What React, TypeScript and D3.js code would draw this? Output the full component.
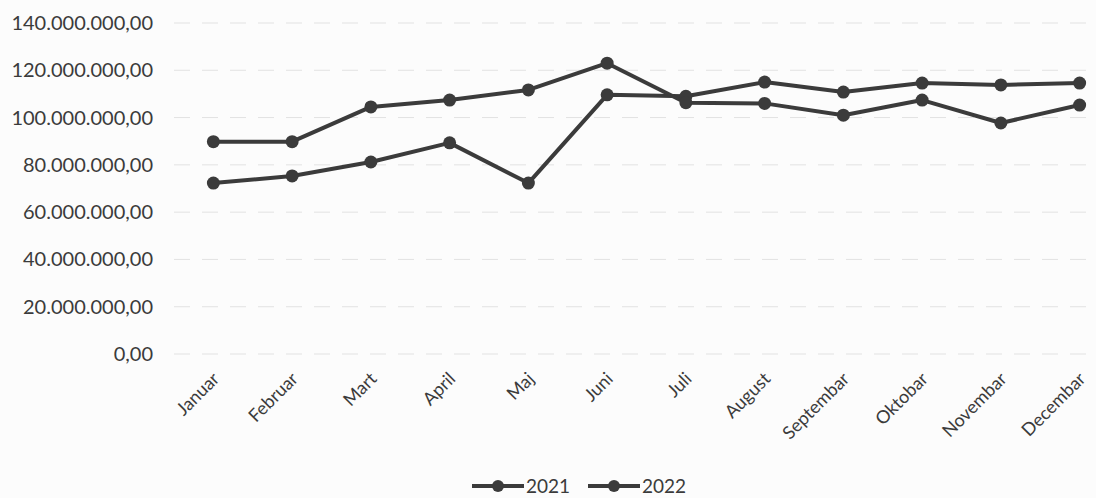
import { useEffect, useRef } from 'react';
import * as d3 from 'd3';

const width = 1096;
const height = 498;

const months = ['Januar', 'Februar', 'Mart', 'April', 'Maj', 'Juni', 'Juli', 'August', 'Septembar', 'Oktobar', 'Novembar', 'Decembar'];
const years = ['2021', '2022'];
const values2021 = [72.3, 75.3, 81.2, 89.3, 72.3, 109.6, 109, 115, 110.8, 114.6, 113.8, 114.6].map((v) => v * 1e6);
const values2022 = [89.8, 89.8, 104.5, 107.4, 111.7, 123, 106.3, 106, 101, 107.4, 97.7, 105.3].map((v) => v * 1e6);
const yTicks = [0, 20e6, 40e6, 60e6, 80e6, 100e6, 120e6, 140e6];

const ink = '#3b3b3b';
const font = 'Lato, "Open Sans", sans-serif';

export default function App() {
    const ref = useRef<SVGSVGElement>(null);

    useEffect(() => {
        const svg = d3.select(ref.current);
        svg.selectAll('*').remove();

        const x = d3.scaleBand().domain(months).range([174, 1119]);
        const cx = (m: string) => x(m)! + x.bandwidth() / 2;
        const y = d3.scaleLinear().domain([0, 140e6]).range([354, 23]);

        const fmt = d3.formatLocale({ decimal: ',', thousands: '.', grouping: [3], currency: ['', ''] }).format(',.2f');

        // grid lines (faint, like the scan)
        svg.append('g')
            .selectAll('line')
            .data(yTicks)
            .join('line')
            .attr('x1', 174)
            .attr('x2', width)
            .attr('y1', (d) => y(d))
            .attr('y2', (d) => y(d))
            .attr('stroke', '#e2e2e2')
            .attr('stroke-width', 1)
            .attr('stroke-dasharray', '16 12');

        // y labels
        svg.append('g')
            .selectAll('text')
            .data(yTicks)
            .join('text')
            .attr('x', 153)
            .attr('y', (d) => y(d))
            .attr('dy', '0.35em')
            .attr('text-anchor', 'end')
            .attr('font-family', font)
            .attr('font-size', 20)
            .attr('fill', ink)
            .text((d) => fmt(d));

        // x labels
        svg.append('g')
            .selectAll('text')
            .data(months)
            .join('text')
            .attr('transform', (d) => `translate(${cx(d) + 7}, ${380}) rotate(-45)`)
            .attr('text-anchor', 'end')
            .attr('font-family', font)
            .attr('font-size', 18)
            .attr('fill', ink)
            .text((d) => d);

        const series = [
            { name: years[0], values: values2021 },
            { name: years[1], values: values2022 },
        ];

        const line = d3
            .line<number>()
            .x((_, i) => cx(months[i]))
            .y((d) => y(d));

        series.forEach((s) => {
            svg.append('path')
                .attr('d', line(s.values))
                .attr('fill', 'none')
                .attr('stroke', ink)
                .attr('stroke-width', 4)
                .attr('stroke-linejoin', 'round');
            svg.append('g')
                .selectAll('circle')
                .data(s.values)
                .join('circle')
                .attr('cx', (_, i) => cx(months[i]))
                .attr('cy', (d) => y(d))
                .attr('r', 6.5)
                .attr('fill', ink);
        });

        // legend
        const legend = svg.append('g').attr('transform', 'translate(0, 486)');
        [472, 588].forEach((lx, i) => {
            const g = legend.append('g').attr('transform', `translate(${lx}, 0)`);
            g.append('line').attr('x1', 0).attr('x2', 52).attr('stroke', ink).attr('stroke-width', 4);
            g.append('circle').attr('cx', 26).attr('r', 6).attr('fill', ink);
            g.append('text')
                .attr('x', 54)
                .attr('dy', '0.35em')
                .attr('font-family', font)
                .attr('font-size', 19)
                .attr('fill', ink)
                .text(years[i]);
        });
    }, []);

    return (
        <svg
            ref={ref}
            width={width}
            height={height}
            style={{ position: 'absolute', left: 0, top: 0, background: '#fcfcfc' }}
        />
    );
}
